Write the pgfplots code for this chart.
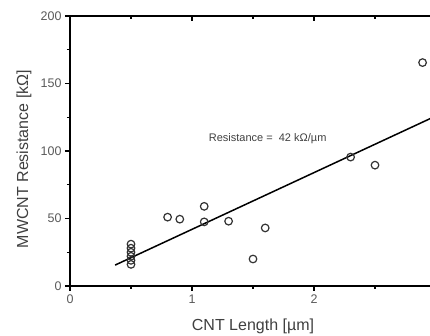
\documentclass[border=0pt]{standalone}
\usepackage{pgfplots}
\pgfplotsset{compat=1.18}
\usepackage{fontspec}
\setmainfont{Liberation Sans}
\definecolor{txt}{HTML}{404040}
\definecolor{tick}{HTML}{5A5A5A}
\begin{document}
\begin{tikzpicture}
\pgfplotsset{
  common/.style={
    scale only axis, width=366pt, height=270pt,
    xmin=0, xmax=3, ymin=0, ymax=200,
    xtick={0,1,2,3}, ytick={0,50,100,150,200},
    minor xtick={0.5,1.5,2.5}, minor ytick={25,75,125,175},
    axis line style={line width=2.2pt},
    major tick length=5pt, minor tick length=3pt,
    every tick/.style={black, line width=1.3pt},
    /pgf/number format/assume math mode=true,
  }
}
\begin{axis}[common, name=main,
    xtick pos=bottom, ytick pos=left, tick align=outside,
    xticklabels={0,1,2,{}},
    ticklabel style={font=\fontsize{12.5}{12.5}\selectfont, text=tick},
    xlabel={CNT Length [µm]}, ylabel={MWCNT Resistance [kΩ]},
    label style={font=\fontsize{16}{16}\selectfont, text=txt},
    xlabel style={at={(axis description cs:0.5,-0.148)}, anchor=center},
    ylabel style={at={(axis description cs:-0.126,0.47)}, anchor=center},
]
\addplot[black, line width=1.5pt, no marks] coordinates {(0.37,15.5) (3,126)};
\addplot[only marks, mark=o, mark size=3.8pt, mark options={line width=1.2pt, draw=black!80}] coordinates {
(0.5,31) (0.5,28) (0.5,25) (0.5,22) (0.5,19) (0.5,16)
(0.8,51) (0.9,49.5) (1.1,59) (1.1,47.5) (1.3,48) (1.5,20) (1.6,43)
(2.3,95.5) (2.5,89.5) (2.89,165.5)
};
\node[font=\fontsize{11}{11}\selectfont, text=txt] at (axis cs:1.62,109) {Resistance =\ \ 42 kΩ/µm};
\end{axis}
\begin{axis}[common,
    xtick pos=top, ytick pos=right, tick align=inside,
    xticklabels={}, yticklabels={},
]
\end{axis}
\pgfresetboundingbox
\path[use as bounding box] ([shift={(-70pt,-50pt)}]main.south west) rectangle ++(430pt,336pt);
\end{tikzpicture}
\end{document}
